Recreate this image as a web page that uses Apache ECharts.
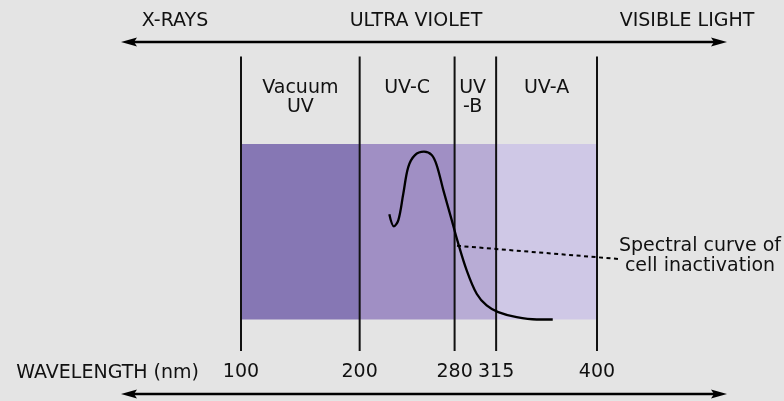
<!DOCTYPE html>
<html>
<head>
<meta charset="utf-8">
<script src="https://cdn.jsdelivr.net/npm/echarts@6/dist/echarts.min.js"></script>
<style>
html,body{margin:0;padding:0;background:#e4e4e4;}
#chart{width:784px;height:401px;}
</style>
</head>
<body>
<div id="chart"></div>
<script>
// ---- data ----
const headerLabels = ['X-RAYS', 'ULTRA VIOLET', 'VISIBLE LIGHT'];
const bandNames = ['Vacuum\nUV', 'UV-C', 'UV\n-B', 'UV-A'];
const bandStart = [100, 200, 280, 315];
const bandEnd = [200, 280, 315, 400];
const boundaries = [100, 200, 280, 315, 400];
const tickLabels = [100, 200, 280, 315, 400];
const curveWavelength = [225, 228.9, 232.6, 236.8, 241, 246.6, 254.2, 260.7, 264.9, 270.5, 277.6, 282.3, 290.2, 298.6, 307, 316.8, 332.3, 349.2, 362.7];
const curveValue = [60, 53.1, 56.6, 71.8, 87, 93.7, 95.6, 93.7, 88, 73.7, 56.6, 45.1, 28, 14.7, 8, 4.2, 1.3, 0, 0];
const leaderFrom = [282, 42];
const leaderTo = [418, 34.5];
const annotation = 'Spectral curve of\ncell inactivation';
const axisTitle = 'WAVELENGTH (nm)';

// ---- styles ----
const FONT = 'DejaVu Sans';
const TXT = '#111111';
const bandColors = ['#8677b4', '#a08fc4', '#b8acd5', '#cfc8e6'];

const chart = echarts.init(document.getElementById('chart'), null, {renderer: 'canvas'});

function arrow(y) {
  const x0 = 121, x1 = 727;
  return {
    type: 'group',
    children: [
      {type: 'line', shape: {x1: x0 + 8, y1: y, x2: x1 - 8, y2: y}, style: {stroke: '#000', lineWidth: 2.5}},
      {type: 'polygon', shape: {points: [[x0, y], [x0 + 16, y - 4.5], [x0 + 13, y], [x0 + 16, y + 4.5]]}, style: {fill: '#000'}},
      {type: 'polygon', shape: {points: [[x1, y], [x1 - 16, y - 4.5], [x1 - 13, y], [x1 - 16, y + 4.5]]}, style: {fill: '#000'}}
    ]
  };
}

const headerX = [175, 416, 687];

const option = {
  backgroundColor: '#e4e4e4',
  animation: false,
  grid: {left: 241, right: 187, top: 144, bottom: 81.5},
  xAxis: {
    type: 'value', min: 100, max: 400,
    axisLine: {show: false}, axisTick: {show: false}, splitLine: {show: false},
    axisLabel: {
      customValues: tickLabels,
      margin: 43,
      fontFamily: FONT, fontSize: 19, color: TXT
    }
  },
  yAxis: {
    type: 'value', min: 0, max: 100, show: false
  },
  graphic: [
    ...headerLabels.map((t, i) => ({
      type: 'text', x: headerX[i], y: 21,
      style: {text: t, fontFamily: FONT, fontSize: 19, fill: TXT, align: 'center', verticalAlign: 'middle'}
    })),
    arrow(42),
    arrow(394),
    {type: 'text', x: 199, y: 373, style: {text: axisTitle, fontFamily: FONT, fontSize: 19, fill: TXT, align: 'right', verticalAlign: 'middle'}},
    {type: 'text', x: 700, y: 256, style: {text: annotation, fontFamily: FONT, fontSize: 19, lineHeight: 20, fill: TXT, align: 'center', verticalAlign: 'middle'}}
  ],
  series: [
    {
      type: 'custom',
      clip: false,
      silent: true,
      z: 1,
      data: bandStart.map((s, i) => [s, bandEnd[i], i]),
      renderItem: function (params, api) {
        const i = api.value(2);
        const p0 = api.coord([api.value(0), 100]);
        const p1 = api.coord([api.value(1), 0]);
        const w = p1[0] - p0[0];
        const cx = w < 60 ? p0[0] + 18 : (p0[0] + p1[0]) / 2;
        return {
          type: 'group',
          children: [
            {type: 'rect', shape: {x: p0[0], y: p0[1], width: w, height: p1[1] - p0[1]}, style: {fill: bandColors[i]}},
            {type: 'text', x: cx, y: 79,
              style: {text: bandNames[i], fontFamily: FONT, fontSize: 19, lineHeight: 19, fill: TXT, align: 'center', verticalAlign: 'top'}}
          ]
        };
      }
    },
    {
      type: 'custom',
      clip: false,
      silent: true,
      z: 3,
      data: boundaries.map(b => [b]),
      renderItem: function (params, api) {
        const p = api.coord([api.value(0), 0]);
        return {type: 'line', shape: {x1: p[0], y1: 56.5, x2: p[0], y2: 351}, style: {stroke: '#111', lineWidth: 2}};
      }
    },
    {
      type: 'custom',
      clip: false,
      silent: true,
      z: 4,
      data: [[leaderFrom[0], leaderFrom[1], leaderTo[0], leaderTo[1]]],
      renderItem: function (params, api) {
        const a = api.coord([api.value(0), api.value(1)]);
        const b = api.coord([api.value(2), api.value(3)]);
        return {type: 'line', shape: {x1: a[0], y1: a[1], x2: b[0], y2: b[1]},
          style: {stroke: '#000', lineWidth: 2, lineDash: [4, 3.5]}};
      }
    },
    {
      type: 'line',
      z: 5,
      clip: false,
      smooth: 0.35,
      symbol: 'none',
      lineStyle: {color: '#000', width: 2.3},
      data: curveWavelength.map((x, i) => [x, curveValue[i]])
    }
  ]
};
chart.setOption(option);
</script>
</body>
</html>
